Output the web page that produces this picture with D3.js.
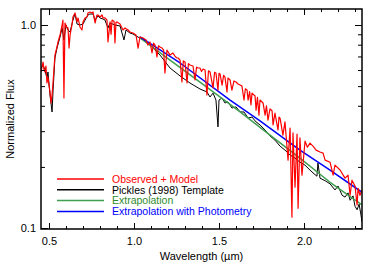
<!DOCTYPE html>
<html>
<head>
<meta charset="utf-8">
<script src="https://cdn.jsdelivr.net/npm/d3@7"></script>
<style>
  body { margin: 0; background: #fff; }
  text { font-family: 'Liberation Sans', Arial, sans-serif; }
</style>
</head>
<body>
<script>
// [wavelength (um), normalized flux]
const observed = [
  [0.453,0.587],[0.465,0.657],[0.471,0.600],[0.476,0.587],[0.482,0.628],[0.488,0.518],[0.494,0.554],
  [0.500,0.506],[0.506,0.468],[0.512,0.413],[0.518,0.452],[0.524,0.524],[0.529,0.600],[0.535,0.711],
  [0.547,0.779],[0.553,0.825],[0.565,0.893],[0.577,1.000],[0.582,1.058],[0.588,0.437],[0.594,1.023],
  [0.606,0.967],[0.612,0.967],[0.618,0.770],[0.624,0.893],[0.635,1.000],[0.641,1.095],[0.653,1.146],
  [0.665,1.035],[0.671,1.083],[0.682,0.978],[0.694,0.945],[0.700,1.035],[0.712,1.083],[0.724,1.095],
  [0.729,1.146],[0.741,1.159],[0.753,1.146],[0.759,1.159],[0.771,1.023],[0.782,1.120],[0.788,1.120],
  [0.800,1.095],[0.812,1.120],[0.818,1.083],[0.829,1.083],[0.841,1.058],[0.847,0.825],[0.859,1.035],
  [0.865,0.900],[0.871,1.058],[0.883,1.040],[0.888,0.816],[0.894,1.030],[0.900,1.035],[0.918,1.011],
  [0.935,0.945],[0.947,0.967],[0.965,0.945],[0.976,0.924],[0.994,0.913],[1.012,0.893],[1.024,0.770],
  [1.035,0.873],[1.053,0.863],[1.071,0.844],[1.082,0.797],[1.094,0.825],[1.106,0.728],[1.115,0.815],
  [1.124,0.797],[1.135,0.696],[1.144,0.790],[1.153,0.779],[1.165,0.770],[1.174,0.755],[1.182,0.580],
  [1.194,0.753],[1.212,0.711],[1.229,0.728],[1.241,0.703],[1.250,0.690],[1.259,0.688],[1.271,0.672],
  [1.282,0.524],[1.290,0.665],[1.300,0.657],[1.312,0.518],[1.320,0.645],[1.329,0.635],[1.347,0.628],
  [1.359,0.536],[1.368,0.620],[1.377,0.614],[1.388,0.614],[1.397,0.590],[1.406,0.607],[1.418,0.600],
  [1.429,0.452],[1.438,0.595],[1.447,0.587],[1.465,0.490],[1.474,0.585],[1.482,0.580],[1.494,0.478],
  [1.500,0.578],[1.506,0.574],[1.518,0.506],[1.527,0.565],[1.535,0.554],[1.547,0.468],[1.553,0.548],
  [1.565,0.536],[1.576,0.478],[1.588,0.530],[1.600,0.524],[1.612,0.512],[1.624,0.506],[1.635,0.500],
  [1.647,0.427],[1.655,0.485],[1.665,0.478],[1.671,0.427],[1.680,0.470],[1.688,0.404],[1.694,0.462],
  [1.712,0.447],[1.718,0.381],[1.726,0.440],[1.735,0.360],[1.741,0.427],[1.759,0.413],[1.771,0.360],
  [1.779,0.400],[1.788,0.340],[1.800,0.386],[1.812,0.378],[1.818,0.322],[1.829,0.368],[1.847,0.304],
  [1.853,0.352],[1.859,0.348],[1.876,0.287],[1.888,0.333],[1.906,0.216],[1.918,0.311],[1.929,0.113],
  [1.935,0.294],[1.947,0.159],[1.959,0.290],[1.965,0.125],[1.976,0.278],[1.988,0.182],[2.006,0.268],
  [2.020,0.250],[2.035,0.262],[2.053,0.253],[2.071,0.242],[2.094,0.237],[2.112,0.234],[2.124,0.216],
  [2.153,0.211],[2.171,0.182],[2.182,0.204],[2.212,0.193],[2.241,0.176],[2.259,0.182],[2.271,0.145],
  [2.282,0.172],[2.300,0.161],[2.312,0.130],[2.318,0.157],[2.329,0.145],[2.341,0.154]
]

const pickles = [
  [0.453,0.614],[0.465,0.635],[0.476,0.600],[0.488,0.548],[0.494,0.587],[0.506,0.452],[0.518,0.373],
  [0.524,0.478],[0.535,0.688],[0.547,0.770],[0.565,0.873],[0.577,0.967],[0.588,0.844],[0.600,1.000],
  [0.612,0.945],[0.624,0.924],[0.641,1.058],[0.653,1.133],[0.665,1.011],[0.682,1.000],[0.700,1.011],
  [0.712,1.058],[0.729,1.120],[0.741,1.133],[0.759,1.133],[0.771,1.058],[0.788,1.107],[0.800,1.083],
  [0.818,1.070],[0.829,1.058],[0.847,0.967],[0.859,1.023],[0.888,1.000],[0.918,0.989],[0.941,0.844],
  [0.953,0.945],[0.976,0.913],[0.994,0.903],[1.012,0.883],[1.035,0.863],[1.082,0.820],[1.153,0.711],
  [1.212,0.614],[1.271,0.561],[1.329,0.518],[1.388,0.484],[1.429,0.468],[1.447,0.442],[1.465,0.462],
  [1.482,0.427],[1.494,0.315],[1.500,0.427],[1.518,0.437],[1.535,0.413],[1.553,0.418],[1.576,0.390],
  [1.600,0.395],[1.624,0.373],[1.647,0.373],[1.671,0.348],[1.694,0.352],[1.718,0.333],[1.741,0.322],
  [1.771,0.304],[1.800,0.284],[1.829,0.271],[1.859,0.253],[1.888,0.242],[1.918,0.229],[1.947,0.221],
  [1.976,0.211],[2.006,0.204],[2.035,0.193],[2.059,0.185],[2.076,0.180],[2.082,0.209],[2.094,0.176],
  [2.124,0.171],[2.153,0.165],[2.182,0.154],[2.200,0.161],[2.224,0.145],[2.241,0.142],[2.259,0.149],
  [2.271,0.137],[2.288,0.144],[2.300,0.128],[2.312,0.123],[2.324,0.131],[2.335,0.116],[2.341,0.107]
]

const extrap = [
  [1.035,0.863],[1.212,0.672],[1.418,0.501],[1.624,0.373],[1.800,0.287],[1.976,0.221],[2.153,0.168],[2.341,0.130]
]

const extrapPhot = [
  [1.035,0.873],[1.271,0.650],[1.565,0.427],[1.741,0.337],[1.976,0.242],[2.153,0.193],[2.341,0.150]
]

const xTicks = [0.5, 1.0, 1.5, 2.0]
const xMinor = [0.5, 0.6, 0.7, 0.8, 0.9, 1.0, 1.1, 1.2, 1.3, 1.4, 1.5, 1.6, 1.7, 1.8, 1.9, 2.0, 2.1, 2.2, 2.3]
const yTicks = [0.1, 1.0]
const yMinor = [0.2, 0.3, 0.4, 0.5, 0.6, 0.7, 0.8, 0.9]

const series = [
  {name: 'Pickles (1998) Template', data: pickles, color: '#000000', text: '#000000', w: 1},
  {name: 'Extrapolation', data: extrap, color: '#3f9e4f', text: '#2e8b2e', w: 1.5},
  {name: 'Extrapolation with Photometry', data: extrapPhot, color: '#0000ff', text: '#0000ff', w: 1.5},
  {name: 'Observed + Model', data: observed, color: '#ff0000', text: '#ff0000', w: 1.2}
]
const legendOrder = [3, 0, 1, 2]

const margin = {left: 41, right: 12, top: 9, bottom: 38}
const width = 374 - margin.left - margin.right
const height = 267 - margin.top - margin.bottom

const svg = d3.select('body').append('svg').attr('width', 374).attr('height', 267)
const g = svg.append('g').attr('transform', `translate(${margin.left},${margin.top})`)

const x = d3.scaleLinear().domain([0.453, 2.341]).range([0, width])
const y = d3.scaleLog().domain([0.0989, 1.199]).range([height, 0])

g.append('defs').append('clipPath').attr('id', 'clip')
  .append('rect').attr('width', width).attr('height', height)

const line = d3.line().x(d => x(d[0])).y(d => y(d[1]))

g.append('g').attr('clip-path', 'url(#clip)')
  .selectAll('path')
  .data(series)
  .enter().append('path')
  .attr('d', d => line(d.data))
  .attr('fill', 'none')
  .attr('stroke', d => d.color)
  .attr('stroke-width', d => d.w)
  .attr('stroke-linejoin', 'round')

// axes, ticks point inward
const axisStyle = sel => {
  sel.select('.domain').remove()
  sel.selectAll('line').attr('stroke', '#000').attr('stroke-width', 1)
  sel.selectAll('text').attr('font-size', 11).attr('fill', '#000')
}

g.append('g').attr('transform', `translate(0,${height})`)
  .call(d3.axisBottom(x).tickValues(xMinor).tickSize(-3).tickFormat(''))
  .call(axisStyle)
g.append('g').attr('transform', `translate(0,${height})`)
  .call(d3.axisBottom(x).tickValues(xTicks).tickSize(-6).tickPadding(8).tickFormat(d3.format('.1f')))
  .call(axisStyle)
g.append('g')
  .call(d3.axisTop(x).tickValues(xMinor).tickSize(-3).tickFormat(''))
  .call(axisStyle)
g.append('g')
  .call(d3.axisTop(x).tickValues(xTicks).tickSize(-6).tickFormat(''))
  .call(axisStyle)

g.append('g')
  .call(d3.axisLeft(y).tickValues(yMinor).tickSize(-4).tickFormat(''))
  .call(axisStyle)
g.append('g')
  .call(d3.axisLeft(y).tickValues(yTicks).tickSize(-7).tickPadding(5).tickFormat(d3.format('.1f')))
  .call(axisStyle)
g.append('g').attr('transform', `translate(${width},0)`)
  .call(d3.axisRight(y).tickValues(yMinor).tickSize(-4).tickFormat(''))
  .call(axisStyle)
g.append('g').attr('transform', `translate(${width},0)`)
  .call(d3.axisRight(y).tickValues(yTicks).tickSize(-7).tickFormat(''))
  .call(axisStyle)

g.append('rect')
  .attr('width', width).attr('height', height)
  .attr('fill', 'none').attr('stroke', '#000').attr('stroke-width', 1.5)

g.append('text')
  .attr('x', width / 2).attr('y', height + 31)
  .attr('text-anchor', 'middle').attr('font-size', 11)
  .text('Wavelength (\u00b5m)')

g.append('text')
  .attr('transform', `translate(-27,${height / 2}) rotate(-90)`)
  .attr('text-anchor', 'middle').attr('font-size', 11)
  .text('Normalized Flux')

const legend = g.append('g').attr('transform', 'translate(16,170)')
legendOrder.forEach((k, i) => {
  const s = series[k]
  legend.append('line')
    .attr('x1', 0).attr('x2', 47).attr('y1', i * 10.8).attr('y2', i * 10.8)
    .attr('stroke', s.color).attr('stroke-width', 1.5)
  legend.append('text')
    .attr('x', 55).attr('y', i * 10.8 + 3.8)
    .attr('font-size', 10.5).attr('fill', s.text)
    .text(s.name)
})
</script>
</body>
</html>
